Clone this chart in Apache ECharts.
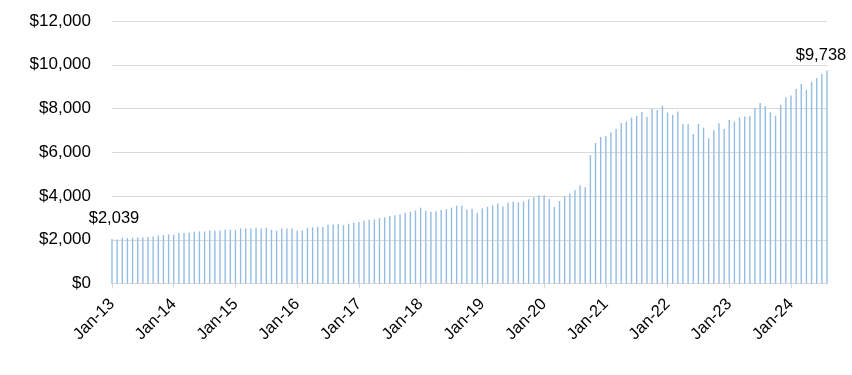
<!DOCTYPE html>
<html>
<head>
<meta charset="utf-8">
<script src="https://cdn.jsdelivr.net/npm/echarts@6/dist/echarts.min.js"></script>
<style>
html,body{margin:0;padding:0;background:#fff;}
#chart{width:852px;height:375px;}
</style>
</head>
<body>
<div id="chart"></div>
<script>
// Month range: Jan-13 .. Aug-24 (140 monthly bars)
var startYear = 2013;
var monthNames = ['Jan','Feb','Mar','Apr','May','Jun','Jul','Aug','Sep','Oct','Nov','Dec'];

var values = [
  2039,2010,2092,2080,2092,2107,2115,2122,2153,2190,2214,2244,
  2229,2305,2305,2336,2366,2382,2382,2428,2412,2428,2458,2458,
  2440,2519,2519,2519,2550,2519,2550,2458,2412,2519,2519,2519,
  2412,2428,2550,2565,2590,2596,2687,2702,2718,2672,2733,2779,
  2809,2870,2916,2931,2993,3023,3084,3115,3161,3237,3283,3344,
  3466,3328,3283,3298,3359,3390,3466,3558,3558,3374,3420,3237,
  3435,3512,3573,3655,3520,3690,3735,3710,3756,3848,3945,4035,
  4040,3860,3500,3770,3995,4115,4277,4490,4400,5870,6427,6695,
  6747,6914,7067,7341,7402,7585,7661,7844,7615,7981,7935,8134,
  7814,7707,7859,7295,7295,6838,7295,7128,6640,7006,7326,7067,
  7478,7402,7585,7631,7661,8012,8256,8103,7829,7661,8164,8515,
  8591,8896,9124,8850,9216,9398,9581,9738
];

var yTicks = [0,2000,4000,6000,8000,10000,12000];
var labeledPoints = [0, values.length - 1];

var categories = [];
for (var i = 0; i < values.length; i++) {
  var y = startYear + Math.floor(i / 12);
  categories.push(monthNames[i % 12] + '-' + String(y % 100).padStart(2, '0'));
}

function money(v) {
  return '$' + v.toLocaleString('en-US');
}

var FONT = 'Liberation Sans, Arial, sans-serif';

var seriesData = values.map(function (v, i) {
  if (labeledPoints.indexOf(i) === -1) return v;
  var isFirst = i === 0;
  return {
    value: v,
    label: {
      show: true,
      position: 'top',
      distance: isFirst ? 12 : 7,
      offset: isFirst ? [2, 0] : [-6, 0],
      formatter: function (p) { return money(p.value); },
      color: '#000',
      fontSize: 16.5,
      fontFamily: FONT
    }
  };
});

var chart = echarts.init(document.getElementById('chart'), null, {renderer: 'canvas'});
chart.setOption({
  animation: false,
  backgroundColor: '#ffffff',
  grid: {left: 112, right: 25, top: 21, bottom: 91.5, containLabel: false},
  xAxis: {
    type: 'category',
    data: categories,
    boundaryGap: false,
    axisLine: {show: true, lineStyle: {color: '#d9d9d9', width: 1}},
    axisTick: {show: true, length: 5, interval: function (idx) { return idx % 12 === 0; }, lineStyle: {color: '#d9d9d9'}},
    axisLabel: {
      interval: function (idx) { return idx % 12 === 0; },
      rotate: 45,
      margin: 18,
      color: '#000',
      fontSize: 16.5,
      fontFamily: FONT
    },
    splitLine: {show: false}
  },
  yAxis: {
    type: 'value',
    min: yTicks[0],
    max: yTicks[yTicks.length - 1],
    interval: 2000,
    axisLine: {show: false},
    axisTick: {show: false},
    axisLabel: {
      margin: 21,
      color: '#000',
      fontSize: 17,
      fontFamily: FONT,
      formatter: function (v) { return money(v); }
    },
    splitLine: {show: true, lineStyle: {color: '#d9d9d9', width: 1}}
  },
  series: [{
    type: 'bar',
    data: seriesData,
    barWidth: 1.4,
    itemStyle: {color: '#95bde3'},
    label: {show: false}
  }]
});
</script>
</body>
</html>
